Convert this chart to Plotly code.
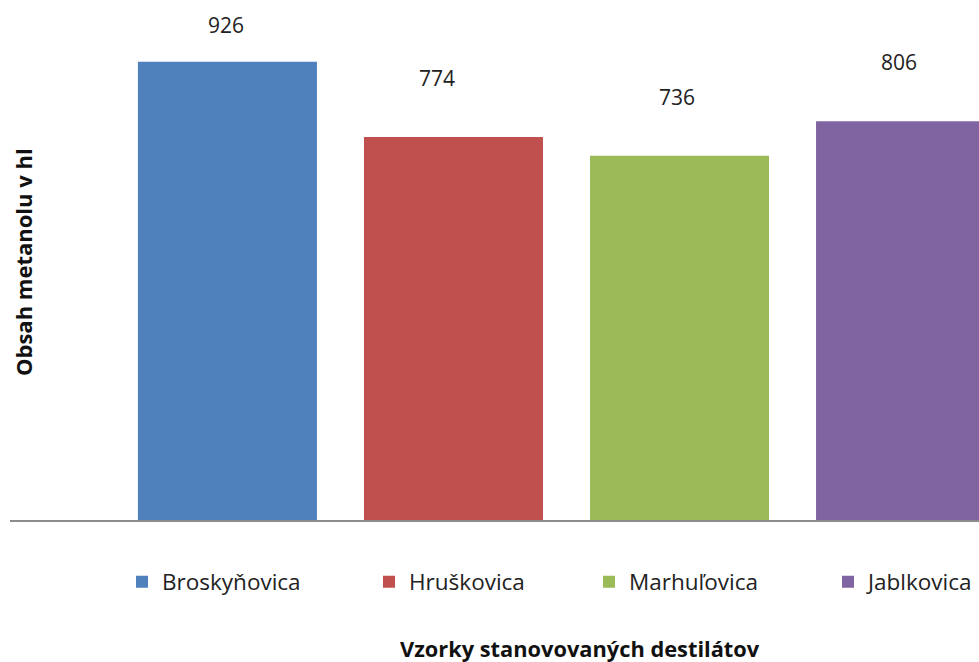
import plotly.graph_objects as go

categories = ["Broskyňovica", "Hruškovica", "Marhuľovica", "Jablkovica"]
values = [926, 774, 736, 806]
colors = ["#4F81BD", "#C0504D", "#9BBB59", "#8064A2"]
label_xshift = [-1, -16, -3, -7]

FONT = "Open Sans"
W, H = 979, 662
plot_bottom = 520
y_max = 1051
px_per_unit = plot_bottom / y_max
label_gap = 59  # px above bar top
label_top_limit = 25  # px from top

legend_x_px = [122, 369, 589, 828]
legend_y_px = 582

fig = go.Figure()
legend_names = ["legend", "legend2", "legend3", "legend4"]
for i, (cat, val, col) in enumerate(zip(categories, values, colors)):
    fig.add_trace(go.Bar(
        x=[cat], y=[val], name=cat, marker=dict(color=col, line=dict(width=0)),
        width=0.792, legend=legend_names[i], showlegend=True,
    ))
    top_px = plot_bottom - val * px_per_unit
    shift = min(label_gap, top_px - label_top_limit)
    fig.add_annotation(x=cat, y=val, text=str(val), showarrow=False,
                       yshift=shift, xshift=label_xshift[i],
                       font=dict(family=FONT, size=21, color="#222222"))

layout_legends = {}
for i, ln in enumerate(legend_names):
    layout_legends[ln] = dict(
        x=legend_x_px[i] / W, y=1 - legend_y_px / H, xref="container", yref="container",
        xanchor="left", yanchor="middle", orientation="h",
        font=dict(family=FONT, size=22.5, color="#222222"),
        bgcolor="rgba(0,0,0,0)", borderwidth=0, itemclick=False,
    )

fig.update_layout(
    width=W, height=H,
    margin=dict(l=10, r=0, t=0, b=H - plot_bottom),
    paper_bgcolor="white", plot_bgcolor="white",
    barmode="overlay",
    showlegend=True,
    xaxis=dict(type="category", categoryorder="array", categoryarray=categories,
               range=[-0.962, 3.325], showticklabels=False, ticks="",
               showgrid=False, zeroline=False, showline=True,
               linecolor="#8c8c8c", linewidth=1.5, fixedrange=True),
    yaxis=dict(range=[0, y_max], showticklabels=False, ticks="", showgrid=False,
               zeroline=False, showline=False, fixedrange=True),
    **layout_legends,
)

fig.add_annotation(text="<b>Vzorky stanovovaných destilátov</b>", xref="paper", yref="paper",
                   x=(580 - 10) / (W - 10), y=-(648 - plot_bottom) / plot_bottom,
                   showarrow=False, font=dict(family=FONT, size=21.8, color="#111111"),
                   xanchor="center", yanchor="middle")
fig.add_annotation(text="<b>Obsah metanolu v hl</b>", xref="paper", yref="paper",
                   x=0, xshift=13, y=(plot_bottom - 262) / plot_bottom,
                   showarrow=False, textangle=-90,
                   font=dict(family=FONT, size=22, color="#111111"),
                   xanchor="center", yanchor="middle")

fig.write_html("out.html")
